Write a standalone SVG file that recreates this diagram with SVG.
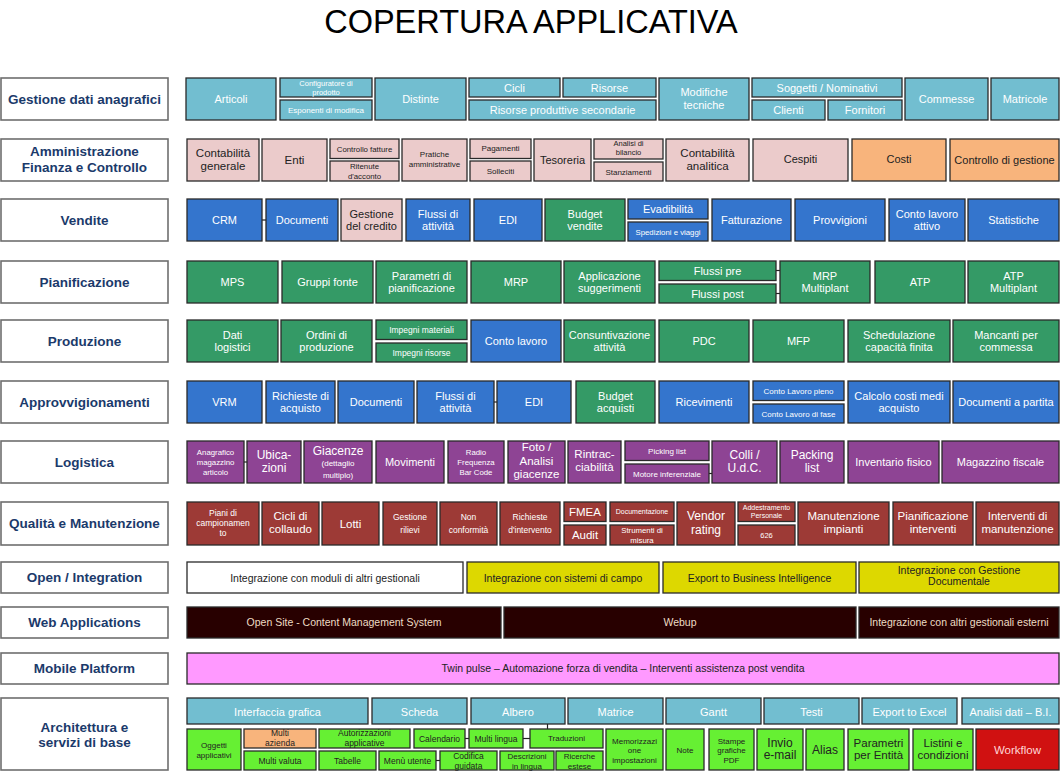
<svg xmlns="http://www.w3.org/2000/svg" width="1061" height="771" viewBox="0 0 1061 771">
<style>
text{font-family:"Liberation Sans",Arial,sans-serif;text-anchor:middle;font-size:11px;fill:#fff}
.title{font-size:32.5px;fill:#000}
.lab rect{fill:#fff;stroke:#6e6e6e;stroke-width:1.6}
.lab text{font-weight:bold;font-size:13.5px;fill:#1B3A6B}
.n rect{stroke:#2a2a2a;stroke-width:1.3}
.lb rect{fill:#72BED0}
.pk rect{fill:#EBCBCB}.pk text{fill:#222}
.or rect{fill:#F8B47C}.or text{fill:#222}
.bl rect{fill:#3475CD}
.gr rect{fill:#349A66}
.pu rect{fill:#8E4494}
.rd rect{fill:#9D3A36}
.ye rect{fill:#DDD800}.ye text{fill:#222}
.wh rect{fill:#fff}.wh text{fill:#222}
.dk rect{fill:#280000}.dk text{fill:#EEDCC4}
.mg rect{fill:#FF99FF}.mg text{fill:#222}
.lg rect{fill:#66F033}.lg text{fill:#222}
.red rect{fill:#D01111}.red text{fill:#FFD5D5}
.f7{font-size:7px}.f75{font-size:7.5px}.f78{font-size:7.8px}.f8{font-size:8px}.f85{font-size:8.5px}.f9{font-size:9px}
.f105{font-size:10.5px}.f115{font-size:11.5px}.f12{font-size:12px}
</style>
<text class="title" x="531" y="33">COPERTURA APPLICATIVA</text>

<g id="connectors" stroke="#222" stroke-width="1.2">
<line x1="262" y1="220" x2="266" y2="220"/>
<line x1="776" y1="270.5" x2="780" y2="270.5"/>
<line x1="776" y1="293.5" x2="780" y2="293.5"/>
<line x1="494" y1="402" x2="497" y2="402"/>
<line x1="244" y1="462" x2="247" y2="462"/>
<line x1="709" y1="473.5" x2="712" y2="473.5"/>
<line x1="465" y1="738.5" x2="469" y2="738.5"/>
<line x1="523" y1="738.5" x2="530" y2="738.5"/>
<line x1="547.5" y1="724" x2="547.5" y2="729"/>
<line x1="436" y1="760.5" x2="440" y2="760.5"/>
</g>

<!-- Labels -->
<g id="lab-anagrafici" class="lab"><rect x="1" y="78" width="167" height="42"/><text x="84.5" y="103.5">Gestione dati anagrafici</text></g>
<g id="lab-amministrazione" class="lab"><rect x="1" y="139" width="167" height="42"/><text x="84.5"><tspan x="84.5" y="156">Amministrazione</tspan><tspan x="84.5" y="172">Finanza e Controllo</tspan></text></g>
<g id="lab-vendite" class="lab"><rect x="1" y="199" width="167" height="42"/><text x="84.5" y="224.7">Vendite</text></g>
<g id="lab-pianificazione" class="lab"><rect x="1" y="261" width="167" height="42"/><text x="84.5" y="286.7">Pianificazione</text></g>
<g id="lab-produzione" class="lab"><rect x="1" y="320" width="167" height="42"/><text x="84.5" y="345.7">Produzione</text></g>
<g id="lab-approvvigionamenti" class="lab"><rect x="1" y="381" width="167" height="42"/><text x="84.5" y="406.7">Approvvigionamenti</text></g>
<g id="lab-logistica" class="lab"><rect x="1" y="441" width="167" height="42"/><text x="84.5" y="466.7">Logistica</text></g>
<g id="lab-qualita" class="lab"><rect x="1" y="502" width="167" height="43"/><text x="84.5" y="528">Qualità e Manutenzione</text></g>
<g id="lab-open" class="lab"><rect x="1" y="562" width="167" height="31"/><text x="84.5" y="582">Open / Integration</text></g>
<g id="lab-web" class="lab"><rect x="1" y="607" width="167" height="31"/><text x="84.5" y="627">Web Applications</text></g>
<g id="lab-mobile" class="lab"><rect x="1" y="653" width="167" height="31"/><text x="84.5" y="673">Mobile Platform</text></g>
<g id="lab-architettura" class="lab"><rect x="1" y="698" width="167" height="72"/><text x="84.5"><tspan x="84.5" y="731.5">Architettura e</tspan><tspan x="84.5" y="747">servizi di base</tspan></text></g>

<!-- Row 1 -->
<g id="articoli" class="n lb"><rect x="186" y="78" width="90" height="42"/><text x="231" y="103">Articoli</text></g>
<g id="configuratore" class="n lb"><rect x="280" y="78" width="92" height="19"/><text class="f75"><tspan x="326" y="85.5">Configuratore di</tspan><tspan x="326" y="95">prodotto</tspan></text></g>
<g id="esponenti" class="n lb"><rect x="280" y="100" width="92" height="20"/><text class="f8" x="326" y="112.5">Esponenti di modifica</text></g>
<g id="distinte" class="n lb"><rect x="375" y="78" width="91" height="42"/><text x="420.5" y="103">Distinte</text></g>
<g id="cicli" class="n lb"><rect x="469" y="78" width="91" height="19"/><text x="514.5" y="91.5">Cicli</text></g>
<g id="risorse" class="n lb"><rect x="563" y="78" width="93" height="19"/><text x="609.5" y="91.5">Risorse</text></g>
<g id="risorse-sec" class="n lb"><rect x="469" y="100" width="187" height="20"/><text x="562.5" y="114">Risorse produttive secondarie</text></g>
<g id="modifiche" class="n lb"><rect x="659" y="78" width="90" height="42"/><text><tspan x="704" y="96">Modifiche</tspan><tspan x="704" y="108.5">tecniche</tspan></text></g>
<g id="soggetti" class="n lb"><rect x="752" y="78" width="150" height="19"/><text x="827" y="91.5">Soggetti / Nominativi</text></g>
<g id="clienti" class="n lb"><rect x="752" y="100" width="73" height="20"/><text x="788.5" y="114">Clienti</text></g>
<g id="fornitori" class="n lb"><rect x="828" y="100" width="74" height="20"/><text x="865" y="114">Fornitori</text></g>
<g id="commesse" class="n lb"><rect x="905" y="78" width="83" height="42"/><text x="946.5" y="103">Commesse</text></g>
<g id="matricole" class="n lb"><rect x="991" y="78" width="68" height="42"/><text x="1025" y="103">Matricole</text></g>

<!-- Row 2 -->
<g id="contabilita-gen" class="n pk"><rect x="187" y="139" width="72" height="42"/><text class="f115"><tspan x="223" y="157">Contabilità</tspan><tspan x="223" y="170">generale</tspan></text></g>
<g id="enti" class="n pk"><rect x="262" y="139" width="65" height="42"/><text class="f115" x="294.5" y="164">Enti</text></g>
<g id="controllo-fatture" class="n pk"><rect x="330" y="139" width="69" height="19.5"/><text class="f78" x="364.5" y="151.5">Controllo fatture</text></g>
<g id="ritenute" class="n pk"><rect x="330" y="161" width="69" height="20"/><text class="f78"><tspan x="364.5" y="169">Ritenute</tspan><tspan x="364.5" y="178.5">d'acconto</tspan></text></g>
<g id="pratiche" class="n pk"><rect x="402" y="139" width="65" height="42"/><text class="f8"><tspan x="434.5" y="157">Pratiche</tspan><tspan x="434.5" y="167">amministrative</tspan></text></g>
<g id="pagamenti" class="n pk"><rect x="470" y="139" width="61" height="19.5"/><text class="f8" x="500.5" y="151">Pagamenti</text></g>
<g id="solleciti" class="n pk"><rect x="470" y="161" width="61" height="20"/><text class="f8" x="500.5" y="173.5">Solleciti</text></g>
<g id="tesoreria" class="n pk"><rect x="534" y="139" width="57" height="42"/><text x="562.5" y="164">Tesoreria</text></g>
<g id="analisi-bilancio" class="n pk"><rect x="594" y="139" width="69" height="20"/><text class="f75"><tspan x="628.5" y="145.5">Analisi di</tspan><tspan x="628.5" y="155">bilancio</tspan></text></g>
<g id="stanziamenti" class="n pk"><rect x="594" y="162" width="69" height="19"/><text class="f8" x="628.5" y="174.5">Stanziamenti</text></g>
<g id="contabilita-an" class="n pk"><rect x="666" y="139" width="83" height="42"/><text class="f115"><tspan x="707.5" y="157">Contabilità</tspan><tspan x="707.5" y="170">analitica</tspan></text></g>
<g id="cespiti" class="n pk"><rect x="753" y="139" width="95" height="42"/><text x="800.5" y="163">Cespiti</text></g>
<g id="costi" class="n or"><rect x="852" y="139" width="94" height="42"/><text x="899" y="163">Costi</text></g>
<g id="controllo-gestione" class="n or"><rect x="950" y="139" width="109" height="42"/><text x="1004.5" y="164">Controllo di gestione</text></g>

<!-- Row 3 Vendite -->
<g id="crm" class="n bl"><rect x="187" y="199" width="75" height="42"/><text x="224.5" y="224">CRM</text></g>
<g id="documenti-v" class="n bl"><rect x="266" y="199" width="72" height="42"/><text x="302" y="224">Documenti</text></g>
<g id="gestione-credito" class="n pk"><rect x="341" y="199" width="61" height="42"/><text><tspan x="371.5" y="217.5">Gestione</tspan><tspan x="371.5" y="230">del credito</tspan></text></g>
<g id="flussi-v" class="n bl"><rect x="406" y="199" width="64" height="42"/><text><tspan x="438" y="217.5">Flussi di</tspan><tspan x="438" y="230">attività</tspan></text></g>
<g id="edi-v" class="n bl"><rect x="474" y="199" width="68" height="42"/><text x="508" y="224">EDI</text></g>
<g id="budget-vendite" class="n gr"><rect x="545" y="199" width="80" height="42"/><text><tspan x="585" y="217.5">Budget</tspan><tspan x="585" y="230">vendite</tspan></text></g>
<g id="evadibilita" class="n bl"><rect x="628" y="199" width="80" height="20"/><text x="668" y="213">Evadibilità</text></g>
<g id="spedizioni" class="n bl"><rect x="628" y="222" width="80" height="19"/><text class="f78" x="668" y="234.5">Spedizioni e viaggi</text></g>
<g id="fatturazione" class="n bl"><rect x="712" y="199" width="79" height="42"/><text x="751.5" y="224">Fatturazione</text></g>
<g id="provvigioni" class="n bl"><rect x="795" y="199" width="90" height="42"/><text x="840" y="224">Provvigioni</text></g>
<g id="conto-lavoro-attivo" class="n bl"><rect x="889" y="199" width="76" height="42"/><text><tspan x="927" y="217.5">Conto lavoro</tspan><tspan x="927" y="230">attivo</tspan></text></g>
<g id="statistiche" class="n bl"><rect x="968" y="199" width="91" height="42"/><text x="1013.5" y="224">Statistiche</text></g>

<!-- Row 4 Pianificazione -->
<g id="mps" class="n gr"><rect x="187" y="261" width="91" height="42"/><text x="232.5" y="286">MPS</text></g>
<g id="gruppi-fonte" class="n gr"><rect x="282" y="261" width="91" height="42"/><text x="327.5" y="286">Gruppi fonte</text></g>
<g id="parametri-pian" class="n gr"><rect x="376" y="261" width="91" height="42"/><text><tspan x="421.5" y="279.5">Parametri di</tspan><tspan x="421.5" y="292">pianificazione</tspan></text></g>
<g id="mrp" class="n gr"><rect x="471" y="261" width="90" height="42"/><text x="516" y="286">MRP</text></g>
<g id="applicazione-sugg" class="n gr"><rect x="564" y="261" width="91" height="42"/><text><tspan x="609.5" y="279.5">Applicazione</tspan><tspan x="609.5" y="292">suggerimenti</tspan></text></g>
<g id="flussi-pre" class="n gr"><rect x="659" y="261" width="117" height="19.5"/><text x="717.5" y="274.5">Flussi pre</text></g>
<g id="flussi-post" class="n gr"><rect x="659" y="284" width="117" height="19"/><text x="717.5" y="297.5">Flussi post</text></g>
<g id="mrp-multiplant" class="n gr"><rect x="780" y="261" width="90" height="42"/><text><tspan x="825" y="279.5">MRP</tspan><tspan x="825" y="292">Multiplant</tspan></text></g>
<g id="atp" class="n gr"><rect x="875" y="261" width="90" height="42"/><text x="920" y="286">ATP</text></g>
<g id="atp-multiplant" class="n gr"><rect x="968" y="261" width="91" height="42"/><text><tspan x="1013.5" y="279.5">ATP</tspan><tspan x="1013.5" y="292">Multiplant</tspan></text></g>

<!-- Row 5 Produzione -->
<g id="dati-logistici" class="n gr"><rect x="187" y="320" width="91" height="42"/><text><tspan x="232.5" y="338.5">Dati</tspan><tspan x="232.5" y="351">logistici</tspan></text></g>
<g id="ordini-produzione" class="n gr"><rect x="281" y="320" width="91" height="42"/><text><tspan x="326.5" y="338.5">Ordini di</tspan><tspan x="326.5" y="351">produzione</tspan></text></g>
<g id="impegni-materiali" class="n gr"><rect x="376" y="320" width="91" height="19.5"/><text class="f85" x="421.5" y="332.5">Impegni materiali</text></g>
<g id="impegni-risorse" class="n gr"><rect x="376" y="343" width="91" height="19"/><text class="f85" x="421.5" y="355.5">Impegni risorse</text></g>
<g id="conto-lavoro" class="n bl"><rect x="471" y="320" width="90" height="42"/><text x="516" y="345">Conto lavoro</text></g>
<g id="consuntivazione" class="n gr"><rect x="564" y="320" width="91" height="42"/><text><tspan x="609.5" y="338.5">Consuntivazione</tspan><tspan x="609.5" y="351">attività</tspan></text></g>
<g id="pdc" class="n gr"><rect x="659" y="320" width="90" height="42"/><text x="704" y="345">PDC</text></g>
<g id="mfp" class="n gr"><rect x="753" y="320" width="91" height="42"/><text x="798.5" y="345">MFP</text></g>
<g id="schedulazione" class="n gr"><rect x="848" y="320" width="102" height="42"/><text><tspan x="899" y="338.5">Schedulazione</tspan><tspan x="899" y="351">capacità finita</tspan></text></g>
<g id="mancanti" class="n gr"><rect x="953" y="320" width="106" height="42"/><text><tspan x="1006" y="338.5">Mancanti per</tspan><tspan x="1006" y="351">commessa</tspan></text></g>

<!-- Row 6 Approvvigionamenti -->
<g id="vrm" class="n bl"><rect x="187" y="381" width="75" height="42"/><text x="224.5" y="406">VRM</text></g>
<g id="richieste-acquisto" class="n bl"><rect x="266" y="381" width="69" height="42"/><text><tspan x="300.5" y="399.5">Richieste di</tspan><tspan x="300.5" y="412">acquisto</tspan></text></g>
<g id="documenti-a" class="n bl"><rect x="338" y="381" width="76" height="42"/><text x="376" y="406">Documenti</text></g>
<g id="flussi-a" class="n bl"><rect x="417" y="381" width="77" height="42"/><text><tspan x="455.5" y="399.5">Flussi di</tspan><tspan x="455.5" y="412">attività</tspan></text></g>
<g id="edi-a" class="n bl"><rect x="497" y="381" width="74" height="42"/><text x="534" y="406">EDI</text></g>
<g id="budget-acquisti" class="n gr"><rect x="576" y="381" width="79" height="42"/><text><tspan x="615.5" y="399.5">Budget</tspan><tspan x="615.5" y="412">acquisti</tspan></text></g>
<g id="ricevimenti" class="n bl"><rect x="659" y="381" width="90" height="42"/><text x="704" y="406">Ricevimenti</text></g>
<g id="cl-pieno" class="n bl"><rect x="753" y="381" width="91" height="19.5"/><text class="f8" x="798.5" y="393.5">Conto Lavoro pieno</text></g>
<g id="cl-fase" class="n bl"><rect x="753" y="404" width="91" height="19"/><text class="f8" x="798.5" y="416.5">Conto Lavoro di fase</text></g>
<g id="calcolo-costi" class="n bl"><rect x="848" y="381" width="102" height="42"/><text><tspan x="899" y="399.5">Calcolo costi medi</tspan><tspan x="899" y="412">acquisto</tspan></text></g>
<g id="documenti-partita" class="n bl"><rect x="953" y="381" width="106" height="42"/><text x="1006" y="406">Documenti a partita</text></g>

<!-- Row 7 Logistica -->
<g id="anagrafico" class="n pu"><rect x="187" y="441" width="57" height="42"/><text class="f78"><tspan x="215.5" y="454.5">Anagrafico</tspan><tspan x="215.5" y="464.5">magazzino</tspan><tspan x="215.5" y="474.5">articolo</tspan></text></g>
<g id="ubicazioni" class="n pu"><rect x="247" y="441" width="54" height="42"/><text class="f12"><tspan x="274" y="458.5">Ubica-</tspan><tspan x="274" y="471.5">zioni</tspan></text></g>
<g id="giacenze" class="n pu"><rect x="304" y="441" width="68" height="42"/><text class="f12" x="338" y="455">Giacenze</text><text class="f8"><tspan x="338" y="466">(dettaglio</tspan><tspan x="338" y="477.5">multiplo)</tspan></text></g>
<g id="movimenti" class="n pu"><rect x="376" y="441" width="68" height="42"/><text x="410" y="466">Movimenti</text></g>
<g id="radio" class="n pu"><rect x="448" y="441" width="56" height="42"/><text class="f78"><tspan x="476" y="454.5">Radio</tspan><tspan x="476" y="464.5">Frequenza</tspan><tspan x="476" y="474.5">Bar Code</tspan></text></g>
<g id="foto-analisi" class="n pu"><rect x="508" y="441" width="57" height="42"/><text class="f115"><tspan x="536.5" y="451">Foto /</tspan><tspan x="536.5" y="464.5">Analisi</tspan><tspan x="536.5" y="478">giacenze</tspan></text></g>
<g id="rintracciabilita" class="n pu"><rect x="568" y="441" width="53" height="42"/><text class="f115"><tspan x="594.5" y="458">Rintrac-</tspan><tspan x="594.5" y="471">ciabilità</tspan></text></g>
<g id="picking" class="n pu"><rect x="625" y="441" width="84" height="19.5"/><text class="f8" x="667" y="453.5">Picking list</text></g>
<g id="motore" class="n pu"><rect x="625" y="464" width="84" height="19"/><text class="f8" x="667" y="476.5">Motore inferenziale</text></g>
<g id="colli" class="n pu"><rect x="712" y="441" width="65" height="42"/><text class="f12"><tspan x="744.5" y="458.5">Colli /</tspan><tspan x="744.5" y="471.5">U.d.C.</tspan></text></g>
<g id="packing" class="n pu"><rect x="780" y="441" width="64" height="42"/><text class="f12"><tspan x="812" y="458.5">Packing</tspan><tspan x="812" y="471.5">list</tspan></text></g>
<g id="inventario" class="n pu"><rect x="848" y="441" width="91" height="42"/><text x="893.5" y="466">Inventario fisico</text></g>
<g id="magazzino-fiscale" class="n pu"><rect x="942" y="441" width="117" height="42"/><text x="1000.5" y="466">Magazzino fiscale</text></g>

<!-- Row 8 Qualità -->
<g id="piani-campionamento" class="n rd"><rect x="187" y="502" width="72" height="43"/><text class="f85"><tspan x="223" y="516">Piani di</tspan><tspan x="223" y="526">campionamen</tspan><tspan x="223" y="536">to</tspan></text></g>
<g id="cicli-collaudo" class="n rd"><rect x="262" y="502" width="57" height="43"/><text class="f115"><tspan x="290.5" y="520">Cicli di</tspan><tspan x="290.5" y="533">collaudo</tspan></text></g>
<g id="lotti" class="n rd"><rect x="322" y="502" width="57" height="43"/><text class="f115" x="350.5" y="527.5">Lotti</text></g>
<g id="gestione-rilievi" class="n rd"><rect x="383" y="502" width="54" height="43"/><text class="f85"><tspan x="410" y="520">Gestione</tspan><tspan x="410" y="532.5">rilievi</tspan></text></g>
<g id="non-conformita" class="n rd"><rect x="440" y="502" width="57" height="43"/><text class="f85"><tspan x="468.5" y="520">Non</tspan><tspan x="468.5" y="532.5">conformità</tspan></text></g>
<g id="richieste-intervento" class="n rd"><rect x="500" y="502" width="60" height="43"/><text class="f85"><tspan x="530" y="520">Richieste</tspan><tspan x="530" y="532.5">d'intervento</tspan></text></g>
<g id="fmea" class="n rd"><rect x="564" y="502" width="42" height="19.5"/><text class="f115" x="585" y="515.5">FMEA</text></g>
<g id="audit" class="n rd"><rect x="564" y="525" width="42" height="20"/><text class="f115" x="585" y="539">Audit</text></g>
<g id="documentazione" class="n rd"><rect x="610" y="502" width="64" height="19.5"/><text class="f7" x="642" y="514">Documentazione</text></g>
<g id="strumenti" class="n rd"><rect x="610" y="525" width="64" height="20"/><text class="f78"><tspan x="642" y="532.5">Strumenti di</tspan><tspan x="642" y="542.5">misura</tspan></text></g>
<g id="vendor-rating" class="n rd"><rect x="677" y="502" width="58" height="43"/><text class="f12"><tspan x="706" y="520">Vendor</tspan><tspan x="706" y="533.5">rating</tspan></text></g>
<g id="addestramento" class="n rd"><rect x="738" y="502" width="57" height="19.5"/><text class="f7"><tspan x="766.5" y="509.5">Addestramento</tspan><tspan x="766.5" y="518">Personale</tspan></text></g>
<g id="n626" class="n rd"><rect x="738" y="525" width="57" height="20"/><text class="f75" x="766.5" y="537.5">626</text></g>
<g id="manutenzione-impianti" class="n rd"><rect x="798" y="502" width="91" height="43"/><text class="f115"><tspan x="843.5" y="520">Manutenzione</tspan><tspan x="843.5" y="533">impianti</tspan></text></g>
<g id="pianificazione-interventi" class="n rd"><rect x="893" y="502" width="80" height="43"/><text class="f115"><tspan x="933" y="520">Pianificazione</tspan><tspan x="933" y="533">interventi</tspan></text></g>
<g id="interventi-manutenzione" class="n rd"><rect x="976" y="502" width="83" height="43"/><text class="f115"><tspan x="1017.5" y="520">Interventi di</tspan><tspan x="1017.5" y="533">manutenzione</tspan></text></g>

<!-- Row 9 Open -->
<g id="int-moduli" class="n wh"><rect x="187" y="562" width="276" height="31"/><text class="f105" x="325" y="581.5">Integrazione con moduli di altri gestionali</text></g>
<g id="int-campo" class="n ye"><rect x="467" y="562" width="192" height="31"/><text class="f105" x="563" y="581.5">Integrazione con sistemi di campo</text></g>
<g id="export-bi" class="n ye"><rect x="663" y="562" width="193" height="31"/><text class="f105" x="759.5" y="581.5">Export to Business Intelligence</text></g>
<g id="int-documentale" class="n ye"><rect x="859" y="562" width="200" height="31"/><text class="f105"><tspan x="959" y="573.5">Integrazione con Gestione</tspan><tspan x="959" y="585">Documentale</tspan></text></g>

<!-- Row 10 Web -->
<g id="open-site" class="n dk"><rect x="187" y="607" width="314" height="31"/><text class="f105" x="344" y="626">Open Site - Content Management System</text></g>
<g id="webup" class="n dk"><rect x="504" y="607" width="352" height="31"/><text class="f105" x="680" y="626">Webup</text></g>
<g id="int-esterni" class="n dk"><rect x="859" y="607" width="200" height="31"/><text class="f105" x="959" y="626">Integrazione con altri gestionali esterni</text></g>

<!-- Row 11 Mobile -->
<g id="twin-pulse" class="n mg"><rect x="187" y="653" width="872" height="31"/><text class="f105" x="623" y="672">Twin pulse – Automazione forza di vendita – Interventi assistenza post vendita</text></g>

<!-- Row 12 Architettura -->
<g id="interfaccia" class="n lb"><rect x="187" y="698" width="181" height="26"/><text x="277.5" y="715.5">Interfaccia grafica</text></g>
<g id="scheda" class="n lb"><rect x="372" y="698" width="95" height="26"/><text x="419.5" y="715.5">Scheda</text></g>
<g id="albero" class="n lb"><rect x="471" y="698" width="94" height="26"/><text x="518" y="715.5">Albero</text></g>
<g id="matrice" class="n lb"><rect x="568" y="698" width="95" height="26"/><text x="615.5" y="715.5">Matrice</text></g>
<g id="gantt" class="n lb"><rect x="666" y="698" width="95" height="26"/><text x="713.5" y="715.5">Gantt</text></g>
<g id="testi" class="n lb"><rect x="764" y="698" width="95" height="26"/><text x="811.5" y="715.5">Testi</text></g>
<g id="export-excel" class="n lb"><rect x="862" y="698" width="95" height="26"/><text x="909.5" y="715.5">Export to Excel</text></g>
<g id="analisi-bi" class="n lb"><rect x="962" y="698" width="97" height="26"/><text x="1010.5" y="715.5">Analisi dati – B.I.</text></g>

<g id="oggetti" class="n lg"><rect x="187" y="729" width="54" height="41"/><text class="f8"><tspan x="214" y="748">Oggetti</tspan><tspan x="214" y="757.5">applicativi</tspan></text></g>
<g id="multi-azienda" class="n or"><rect x="244" y="729" width="72" height="19"/><text class="f85"><tspan x="280" y="735.5">Multi</tspan><tspan x="280" y="745.5">azienda</tspan></text></g>
<g id="multi-valuta" class="n lg"><rect x="244" y="751" width="72" height="19"/><text class="f85" x="280" y="764">Multi valuta</text></g>
<g id="autorizzazioni" class="n lg"><rect x="319" y="729" width="91" height="19"/><text class="f85"><tspan x="364.5" y="735.5">Autorizzazioni</tspan><tspan x="364.5" y="745.5">applicative</tspan></text></g>
<g id="calendario" class="n lg"><rect x="414" y="729" width="51" height="19"/><text class="f85" x="439.5" y="741.5">Calendario</text></g>
<g id="multi-lingua" class="n lg"><rect x="469" y="729" width="54" height="19"/><text class="f85" x="496" y="741.5">Multi lingua</text></g>
<g id="tabelle" class="n lg"><rect x="319" y="751" width="57" height="19"/><text class="f85" x="347.5" y="764">Tabelle</text></g>
<g id="menu-utente" class="n lg"><rect x="379" y="751" width="57" height="19"/><text class="f85" x="407.5" y="764">Menù utente</text></g>
<g id="codifica" class="n lg"><rect x="440" y="751" width="57" height="19"/><text class="f85"><tspan x="468.5" y="758.5">Codifica</tspan><tspan x="468.5" y="768.5">guidata</tspan></text></g>
<g id="descrizioni" class="n lg"><rect x="500" y="751" width="54" height="19"/><text class="f8"><tspan x="527" y="758.5">Descrizioni</tspan><tspan x="527" y="768.5">in lingua</tspan></text></g>
<g id="traduzioni" class="n lg"><rect x="530" y="729" width="73" height="19"/><text class="f8" x="566.5" y="741">Traduzioni</text></g>
<g id="ricerche" class="n lg"><rect x="556" y="751" width="47" height="19"/><text class="f8"><tspan x="579.5" y="758.5">Ricerche</tspan><tspan x="579.5" y="768.5">estese</tspan></text></g>
<g id="memorizzazione" class="n lg"><rect x="606" y="729" width="57" height="41"/><text class="f8"><tspan x="634.5" y="743.5">Memorizzazi</tspan><tspan x="634.5" y="753">one</tspan><tspan x="634.5" y="762.5">impostazioni</tspan></text></g>
<g id="note" class="n lg"><rect x="666" y="729" width="38" height="41"/><text class="f8" x="685" y="752.5">Note</text></g>
<g id="stampe" class="n lg"><rect x="709" y="729" width="45" height="41"/><text class="f8"><tspan x="731.5" y="743.5">Stampe</tspan><tspan x="731.5" y="753">grafiche</tspan><tspan x="731.5" y="762.5">PDF</tspan></text></g>
<g id="invio-email" class="n lg"><rect x="757" y="729" width="46" height="41"/><text class="f12"><tspan x="780" y="747">Invio</tspan><tspan x="780" y="759">e-mail</tspan></text></g>
<g id="alias" class="n lg"><rect x="806" y="729" width="38" height="41"/><text class="f12" x="825" y="754">Alias</text></g>
<g id="parametri-entita" class="n lg"><rect x="848" y="729" width="61" height="41"/><text class="f115"><tspan x="878.5" y="747">Parametri</tspan><tspan x="878.5" y="759">per Entità</tspan></text></g>
<g id="listini" class="n lg"><rect x="913" y="729" width="60" height="41"/><text class="f115"><tspan x="943" y="747">Listini e</tspan><tspan x="943" y="759">condizioni</tspan></text></g>
<g id="workflow" class="n red"><rect x="976" y="729" width="83" height="41"/><text class="f115" x="1017.5" y="753.5">Workflow</text></g>
</svg>
